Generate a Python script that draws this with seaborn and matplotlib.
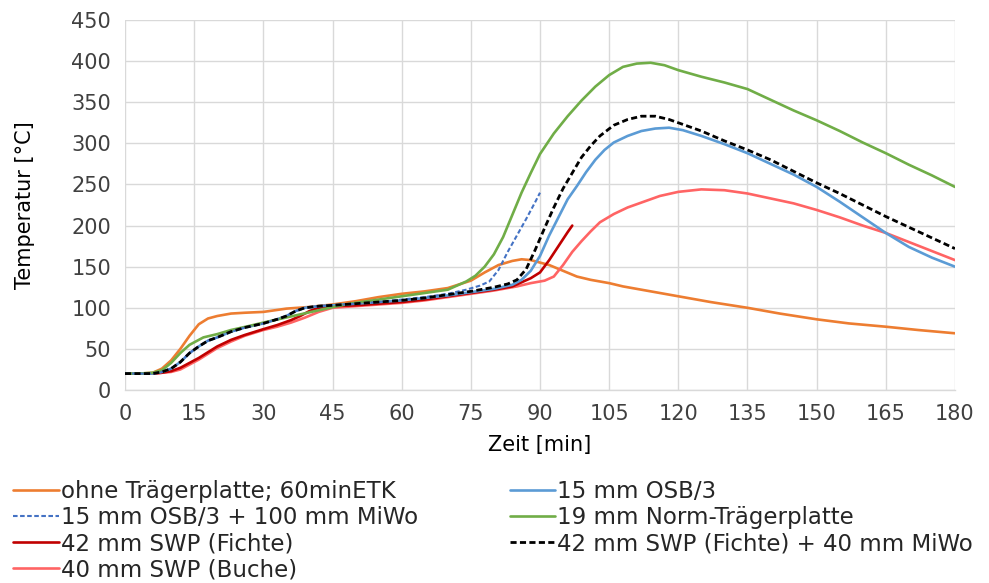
import numpy as np
import pandas as pd
import matplotlib
matplotlib.use("Agg")
import matplotlib.pyplot as plt
import seaborn as sns

# Temperature curves (time in min, temperature in °C)
t_ohne = [0, 3, 6, 8, 10, 12, 14, 16, 18, 20, 23, 26, 30, 35, 40, 45, 50, 55, 60, 65, 70, 75, 78, 81, 84, 86, 88,
          90, 92, 95, 98, 101, 105, 108, 112, 116, 120, 127, 135, 142, 150, 157, 165, 172, 180]
T_ohne = [20, 20, 21, 26, 36, 50, 66, 80, 87, 90, 93, 94, 95, 99, 101, 104, 108, 113, 117, 120, 124, 133, 143, 152, 157, 159, 158,
          155, 152, 145, 138, 134, 130, 126, 122, 118, 114, 107, 100, 93, 86, 81, 77, 73, 69]

t_osb = [0, 3, 6, 8, 10, 12, 14, 16, 18, 20, 23, 26, 30, 33, 35, 37, 39, 42, 45, 50, 55, 60, 65, 70, 75, 80, 84, 86, 88, 90,
         92, 94, 96, 98, 100, 102, 104, 106, 109, 112, 115, 118, 121, 125, 130, 135, 140, 145, 150, 155, 160, 165, 170,
         175, 180]
T_osb = [20, 20, 20, 22, 26, 34, 45, 53, 60, 64, 71, 76, 81, 86, 90, 96, 100, 102, 103, 105, 107, 109, 112, 115, 119, 123, 128, 134, 145, 163,
         188, 210, 232, 248, 265, 280, 292, 301, 309, 315, 318, 319, 316, 309, 299, 288, 275, 262, 247, 229, 210, 191, 174,
         161, 150]

t_osb_miwo = [0, 3, 6, 8, 10, 12, 14, 16, 18, 20, 23, 26, 30, 33, 35, 37, 39, 42, 45, 50, 55, 60, 65, 70, 74, 77, 79, 81,
              83, 85, 87, 89, 90]
T_osb_miwo = [20, 20, 20, 22, 26, 34, 45, 53, 60, 64, 71, 76, 81, 86, 90, 96, 100, 102, 103, 105, 107, 110, 113, 117, 122, 127, 132, 146,
              168, 188, 208, 229, 240]

t_norm = [0, 3, 6, 8, 10, 12, 14, 17, 20, 23, 27, 30, 34, 38, 42, 46, 50, 55, 60, 65, 70, 72, 74, 76, 78, 80, 82, 84, 86,
          88, 90, 93, 96, 99, 102, 105, 108, 111, 114, 117, 120, 125, 130, 135, 140, 145, 150, 155, 160, 165, 170, 175, 180]
T_norm = [20, 20, 21, 24, 33, 45, 55, 64, 68, 73, 78, 82, 87, 92, 97, 102, 106, 110, 114, 118, 122, 127, 132, 139, 150, 165, 186, 213, 240,
          264, 287, 312, 333, 352, 369, 383, 393, 397, 398, 395, 389, 381, 374, 366, 353, 340, 328, 315, 301, 288, 274, 261,
          247]

t_fichte = [0, 3, 6, 8, 10, 12, 14, 16, 18, 20, 23, 26, 30, 33, 36, 38, 40, 42, 45, 50, 55, 60, 65, 70, 75, 80, 84, 86, 88,
            90, 92, 94, 96, 97]
T_fichte = [20, 20, 20, 21, 23, 27, 33, 39, 46, 53, 61, 67, 74, 79, 85, 90, 96, 100, 102, 103, 105, 107, 110, 114, 118, 122, 126, 131,
            136, 143, 158, 175, 192, 200]

t_fichte_miwo = [0, 3, 6, 8, 10, 12, 14, 16, 18, 20, 23, 26, 30, 33, 35, 37, 39, 42, 45, 50, 55, 60, 65, 70, 75, 80, 83, 85,
                 87, 89, 91, 93, 95, 97, 99, 101, 103, 106, 109, 112, 115, 118, 121, 125, 130, 135, 140, 145, 150, 155, 160,
                 165, 170, 175, 180]
T_fichte_miwo = [20, 20, 20, 22, 26, 34, 45, 53, 60, 64, 71, 76, 81, 86, 90, 96, 100, 102, 103, 105, 107, 109, 112, 116, 120, 125, 129, 134,
                 147, 171, 197, 222, 245, 264, 283, 297, 309, 322, 329, 333, 333, 329, 323, 315, 303, 292, 280, 266, 252, 239, 225,
                 211, 198, 185, 172]

t_buche = [0, 3, 6, 8, 10, 12, 14, 16, 18, 20, 23, 26, 30, 33, 36, 39, 42, 45, 50, 55, 60, 65, 70, 75, 80, 85, 88, 91, 93,
           95, 97, 99, 101, 103, 106, 109, 112, 116, 120, 125, 130, 135, 140, 145, 150, 155, 160, 165, 170, 175, 180]
T_buche = [20, 20, 20, 21, 22, 25, 31, 37, 44, 51, 59, 66, 73, 77, 82, 88, 95, 100, 102, 104, 106, 109, 113, 117, 121, 126, 130, 133, 138,
           152, 168, 181, 193, 204, 214, 222, 228, 236, 241, 244, 243, 239, 233, 227, 219, 210, 200, 191, 180, 169, 158]

labels = [
    "ohne Trägerplatte; 60minETK",
    "15 mm OSB/3",
    "15 mm OSB/3 + 100 mm MiWo",
    "19 mm Norm-Trägerplatte",
    "42 mm SWP (Fichte)",
    "42 mm SWP (Fichte) + 40 mm MiWo",
    "40 mm SWP (Buche)",
]
series_t = [t_ohne, t_osb, t_osb_miwo, t_norm, t_fichte, t_fichte_miwo, t_buche]
series_T = [T_ohne, T_osb, T_osb_miwo, T_norm, T_fichte, T_fichte_miwo, T_buche]

x_ticks = list(range(0, 181, 15))
y_ticks = list(range(0, 451, 50))

frames = [pd.DataFrame({"Zeit": t, "Temperatur": T, "Serie": lab})
          for t, T, lab in zip(series_t, series_T, labels)]
df = pd.concat(frames, ignore_index=True)

colors = {
    labels[0]: "#ED7D31",
    labels[1]: "#5B9BD5",
    labels[2]: "#4472C4",
    labels[3]: "#70AD47",
    labels[4]: "#C00000",
    labels[5]: "#000000",
    labels[6]: "#FF6464",
}
dashes = {lab: "" for lab in labels}
dashes[labels[2]] = (2.2, 1.2)
dashes[labels[5]] = (2.2, 1.2)
widths = {lab: 1.9 for lab in labels}
widths[labels[5]] = 2.0
widths[labels[2]] = 1.5

sns.set_theme(style="white")
plt.rcParams["font.family"] = ["DejaVu Sans"]

fig = plt.figure(figsize=(9.89, 5.83), dpi=100)
ax = fig.add_axes([0.1264, 0.331, 0.8392, 0.6347])

# draw order: back to front
order = [labels[0], labels[6], labels[4], labels[1], labels[3], labels[2], labels[5]]
handles = {}
for lab in order:
    sub = df[df["Serie"] == lab]
    sns.lineplot(data=sub, x="Zeit", y="Temperatur", ax=ax, color=colors[lab],
                 linewidth=widths[lab], sort=False, estimator=None, label=lab, legend=False)
    line = ax.get_lines()[-1]
    if dashes[lab]:
        line.set_dashes(dashes[lab])
    handles[lab] = line

ax.set_xlim(0, 180)
ax.set_ylim(0, 450)
ax.set_xticks(x_ticks)
ax.set_yticks(y_ticks)
ax.grid(True, color="#D9D9D9", linewidth=1.0)
ax.set_axisbelow(True)
for s in ["top", "right", "left"]:
    ax.spines[s].set_visible(False)
ax.spines["bottom"].set_color("#D9D9D9")
ax.spines["bottom"].set_linewidth(1.0)
ax.tick_params(axis="both", length=0, labelsize=15, colors="#404040", pad=10)
ax.set_xlabel("Zeit [min]", fontsize=15, color="#000000", labelpad=8)
ax.set_ylabel("Temperatur [°C]", fontsize=15, color="#000000", labelpad=26)

leg_order = [labels[0], labels[2], labels[4], labels[6], labels[1], labels[3], labels[5]]
fig.legend([handles[l] for l in leg_order], leg_order, ncol=2, loc="upper left",
           bbox_to_anchor=(0.004, 0.193), frameon=False, fontsize=16.5,
           handlelength=2.0, handletextpad=0.08, columnspacing=4.0,
           labelspacing=0.14, borderaxespad=0)

fig.savefig("out.png", dpi=100)
